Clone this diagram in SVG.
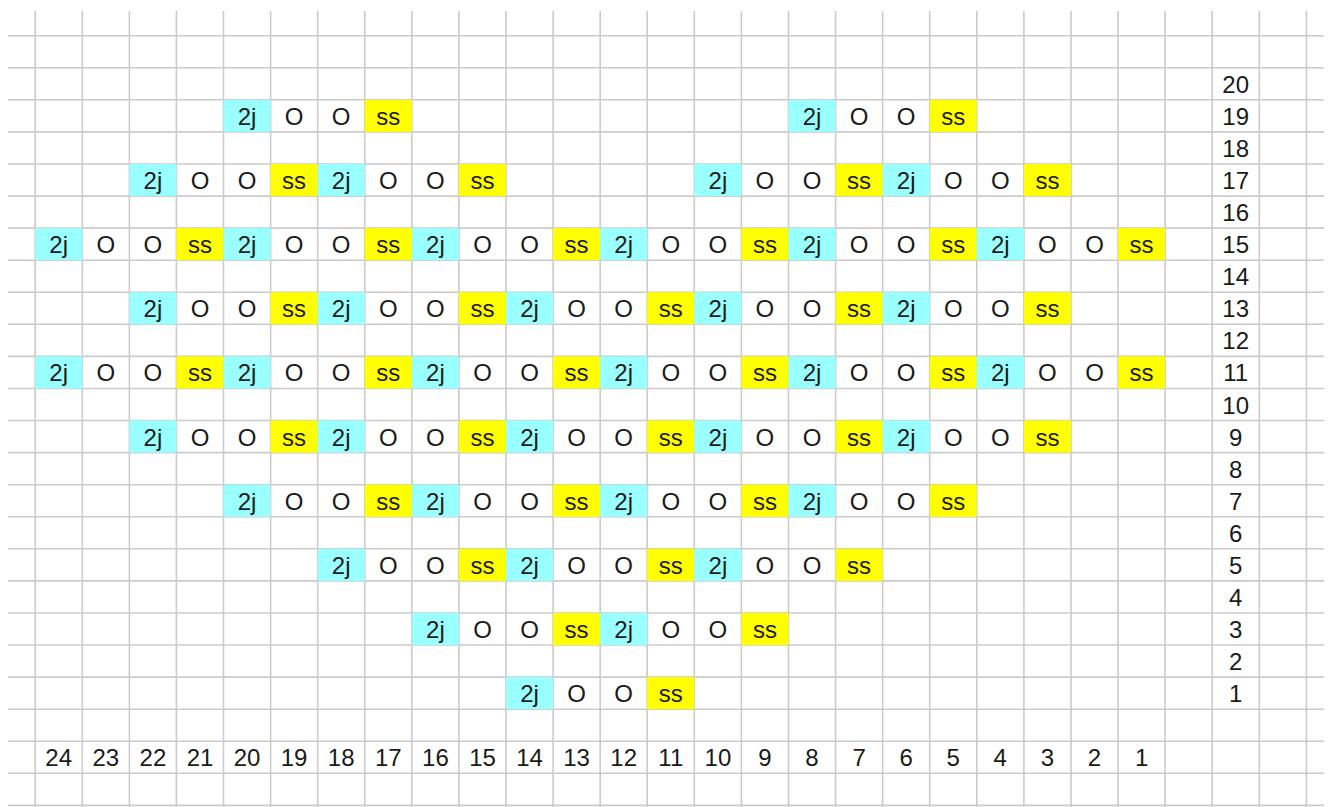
<svg xmlns="http://www.w3.org/2000/svg" width="1331" height="807" viewBox="0 0 1331 807">
<style>
.g{stroke:#cbcbcb;stroke-width:1.6;fill:none}
.c{fill:#99ffff}
.y{fill:#ffff00}
text{font-family:"Liberation Sans",Arial,sans-serif;font-size:24px;fill:#1a1a1a;text-anchor:middle}
</style>
<rect width="1331" height="807" fill="#ffffff"/>
<g id="grid">
<path class="g" d="M35.2 11V807M82.3 11V807M129.4 11V807M176.4 11V807M223.5 11V807M270.6 11V807M317.7 11V807M364.8 11V807M411.8 11V807M458.9 11V807M506 11V807M553.1 11V807M600.2 11V807M647.2 11V807M694.3 11V807M741.4 11V807M788.5 11V807M835.6 11V807M882.6 11V807M929.7 11V807M976.8 11V807M1023.9 11V807M1071 11V807M1118 11V807M1165.1 11V807M1212.2 11V807M1259.3 11V807M1306.4 11V807"/>
<path class="g" d="M8 35.7H1324M8 67.8H1324M8 99.8H1324M8 131.9H1324M8 164H1324M8 196.1H1324M8 228.1H1324M8 260.2H1324M8 292.3H1324M8 324.3H1324M8 356.4H1324M8 388.5H1324M8 420.5H1324M8 452.6H1324M8 484.7H1324M8 516.8H1324M8 548.8H1324M8 580.9H1324M8 613H1324M8 645H1324M8 677.1H1324M8 709.2H1324M8 741.2H1324M8 773.3H1324M8 805.4H1324"/>
</g>
<g id="row19">
<g id="r19-m20"><rect class="c" x="223.5" y="99.8" width="47.1" height="32.1"/><rect class="y" x="364.8" y="99.8" width="47.1" height="32.1"/><text x="247.1" y="124.8">2j</text><text x="294.1" y="124.8">O</text><text x="341.2" y="124.8">O</text><text x="388.3" y="124.8">ss</text></g>
<g id="r19-m8"><rect class="c" x="788.5" y="99.8" width="47.1" height="32.1"/><rect class="y" x="929.7" y="99.8" width="47.1" height="32.1"/><text x="812" y="124.8">2j</text><text x="859.1" y="124.8">O</text><text x="906.2" y="124.8">O</text><text x="953.3" y="124.8">ss</text></g>
</g>
<g id="row17">
<g id="r17-m22"><rect class="c" x="129.4" y="164" width="47.1" height="32.1"/><rect class="y" x="270.6" y="164" width="47.1" height="32.1"/><text x="152.9" y="189">2j</text><text x="200" y="189">O</text><text x="247.1" y="189">O</text><text x="294.1" y="189">ss</text></g>
<g id="r17-m18"><rect class="c" x="317.7" y="164" width="47.1" height="32.1"/><rect class="y" x="458.9" y="164" width="47.1" height="32.1"/><text x="341.2" y="189">2j</text><text x="388.3" y="189">O</text><text x="435.4" y="189">O</text><text x="482.5" y="189">ss</text></g>
<g id="r17-m10"><rect class="c" x="694.3" y="164" width="47.1" height="32.1"/><rect class="y" x="835.6" y="164" width="47.1" height="32.1"/><text x="717.9" y="189">2j</text><text x="764.9" y="189">O</text><text x="812" y="189">O</text><text x="859.1" y="189">ss</text></g>
<g id="r17-m6"><rect class="c" x="882.6" y="164" width="47.1" height="32.1"/><rect class="y" x="1023.9" y="164" width="47.1" height="32.1"/><text x="906.2" y="189">2j</text><text x="953.3" y="189">O</text><text x="1000.3" y="189">O</text><text x="1047.4" y="189">ss</text></g>
</g>
<g id="row15">
<g id="r15-m24"><rect class="c" x="35.2" y="228.1" width="47.1" height="32.1"/><rect class="y" x="176.4" y="228.1" width="47.1" height="32.1"/><text x="58.7" y="253.1">2j</text><text x="105.8" y="253.1">O</text><text x="152.9" y="253.1">O</text><text x="200" y="253.1">ss</text></g>
<g id="r15-m20"><rect class="c" x="223.5" y="228.1" width="47.1" height="32.1"/><rect class="y" x="364.8" y="228.1" width="47.1" height="32.1"/><text x="247.1" y="253.1">2j</text><text x="294.1" y="253.1">O</text><text x="341.2" y="253.1">O</text><text x="388.3" y="253.1">ss</text></g>
<g id="r15-m16"><rect class="c" x="411.8" y="228.1" width="47.1" height="32.1"/><rect class="y" x="553.1" y="228.1" width="47.1" height="32.1"/><text x="435.4" y="253.1">2j</text><text x="482.5" y="253.1">O</text><text x="529.5" y="253.1">O</text><text x="576.6" y="253.1">ss</text></g>
<g id="r15-m12"><rect class="c" x="600.2" y="228.1" width="47.1" height="32.1"/><rect class="y" x="741.4" y="228.1" width="47.1" height="32.1"/><text x="623.7" y="253.1">2j</text><text x="670.8" y="253.1">O</text><text x="717.9" y="253.1">O</text><text x="764.9" y="253.1">ss</text></g>
<g id="r15-m8"><rect class="c" x="788.5" y="228.1" width="47.1" height="32.1"/><rect class="y" x="929.7" y="228.1" width="47.1" height="32.1"/><text x="812" y="253.1">2j</text><text x="859.1" y="253.1">O</text><text x="906.2" y="253.1">O</text><text x="953.3" y="253.1">ss</text></g>
<g id="r15-m4"><rect class="c" x="976.8" y="228.1" width="47.1" height="32.1"/><rect class="y" x="1118" y="228.1" width="47.1" height="32.1"/><text x="1000.3" y="253.1">2j</text><text x="1047.4" y="253.1">O</text><text x="1094.5" y="253.1">O</text><text x="1141.6" y="253.1">ss</text></g>
</g>
<g id="row13">
<g id="r13-m22"><rect class="c" x="129.4" y="292.3" width="47.1" height="32.1"/><rect class="y" x="270.6" y="292.3" width="47.1" height="32.1"/><text x="152.9" y="317.3">2j</text><text x="200" y="317.3">O</text><text x="247.1" y="317.3">O</text><text x="294.1" y="317.3">ss</text></g>
<g id="r13-m18"><rect class="c" x="317.7" y="292.3" width="47.1" height="32.1"/><rect class="y" x="458.9" y="292.3" width="47.1" height="32.1"/><text x="341.2" y="317.3">2j</text><text x="388.3" y="317.3">O</text><text x="435.4" y="317.3">O</text><text x="482.5" y="317.3">ss</text></g>
<g id="r13-m14"><rect class="c" x="506" y="292.3" width="47.1" height="32.1"/><rect class="y" x="647.2" y="292.3" width="47.1" height="32.1"/><text x="529.5" y="317.3">2j</text><text x="576.6" y="317.3">O</text><text x="623.7" y="317.3">O</text><text x="670.8" y="317.3">ss</text></g>
<g id="r13-m10"><rect class="c" x="694.3" y="292.3" width="47.1" height="32.1"/><rect class="y" x="835.6" y="292.3" width="47.1" height="32.1"/><text x="717.9" y="317.3">2j</text><text x="764.9" y="317.3">O</text><text x="812" y="317.3">O</text><text x="859.1" y="317.3">ss</text></g>
<g id="r13-m6"><rect class="c" x="882.6" y="292.3" width="47.1" height="32.1"/><rect class="y" x="1023.9" y="292.3" width="47.1" height="32.1"/><text x="906.2" y="317.3">2j</text><text x="953.3" y="317.3">O</text><text x="1000.3" y="317.3">O</text><text x="1047.4" y="317.3">ss</text></g>
</g>
<g id="row11">
<g id="r11-m24"><rect class="c" x="35.2" y="356.4" width="47.1" height="32.1"/><rect class="y" x="176.4" y="356.4" width="47.1" height="32.1"/><text x="58.7" y="381.4">2j</text><text x="105.8" y="381.4">O</text><text x="152.9" y="381.4">O</text><text x="200" y="381.4">ss</text></g>
<g id="r11-m20"><rect class="c" x="223.5" y="356.4" width="47.1" height="32.1"/><rect class="y" x="364.8" y="356.4" width="47.1" height="32.1"/><text x="247.1" y="381.4">2j</text><text x="294.1" y="381.4">O</text><text x="341.2" y="381.4">O</text><text x="388.3" y="381.4">ss</text></g>
<g id="r11-m16"><rect class="c" x="411.8" y="356.4" width="47.1" height="32.1"/><rect class="y" x="553.1" y="356.4" width="47.1" height="32.1"/><text x="435.4" y="381.4">2j</text><text x="482.5" y="381.4">O</text><text x="529.5" y="381.4">O</text><text x="576.6" y="381.4">ss</text></g>
<g id="r11-m12"><rect class="c" x="600.2" y="356.4" width="47.1" height="32.1"/><rect class="y" x="741.4" y="356.4" width="47.1" height="32.1"/><text x="623.7" y="381.4">2j</text><text x="670.8" y="381.4">O</text><text x="717.9" y="381.4">O</text><text x="764.9" y="381.4">ss</text></g>
<g id="r11-m8"><rect class="c" x="788.5" y="356.4" width="47.1" height="32.1"/><rect class="y" x="929.7" y="356.4" width="47.1" height="32.1"/><text x="812" y="381.4">2j</text><text x="859.1" y="381.4">O</text><text x="906.2" y="381.4">O</text><text x="953.3" y="381.4">ss</text></g>
<g id="r11-m4"><rect class="c" x="976.8" y="356.4" width="47.1" height="32.1"/><rect class="y" x="1118" y="356.4" width="47.1" height="32.1"/><text x="1000.3" y="381.4">2j</text><text x="1047.4" y="381.4">O</text><text x="1094.5" y="381.4">O</text><text x="1141.6" y="381.4">ss</text></g>
</g>
<g id="row9">
<g id="r9-m22"><rect class="c" x="129.4" y="420.5" width="47.1" height="32.1"/><rect class="y" x="270.6" y="420.5" width="47.1" height="32.1"/><text x="152.9" y="445.5">2j</text><text x="200" y="445.5">O</text><text x="247.1" y="445.5">O</text><text x="294.1" y="445.5">ss</text></g>
<g id="r9-m18"><rect class="c" x="317.7" y="420.5" width="47.1" height="32.1"/><rect class="y" x="458.9" y="420.5" width="47.1" height="32.1"/><text x="341.2" y="445.5">2j</text><text x="388.3" y="445.5">O</text><text x="435.4" y="445.5">O</text><text x="482.5" y="445.5">ss</text></g>
<g id="r9-m14"><rect class="c" x="506" y="420.5" width="47.1" height="32.1"/><rect class="y" x="647.2" y="420.5" width="47.1" height="32.1"/><text x="529.5" y="445.5">2j</text><text x="576.6" y="445.5">O</text><text x="623.7" y="445.5">O</text><text x="670.8" y="445.5">ss</text></g>
<g id="r9-m10"><rect class="c" x="694.3" y="420.5" width="47.1" height="32.1"/><rect class="y" x="835.6" y="420.5" width="47.1" height="32.1"/><text x="717.9" y="445.5">2j</text><text x="764.9" y="445.5">O</text><text x="812" y="445.5">O</text><text x="859.1" y="445.5">ss</text></g>
<g id="r9-m6"><rect class="c" x="882.6" y="420.5" width="47.1" height="32.1"/><rect class="y" x="1023.9" y="420.5" width="47.1" height="32.1"/><text x="906.2" y="445.5">2j</text><text x="953.3" y="445.5">O</text><text x="1000.3" y="445.5">O</text><text x="1047.4" y="445.5">ss</text></g>
</g>
<g id="row7">
<g id="r7-m20"><rect class="c" x="223.5" y="484.7" width="47.1" height="32.1"/><rect class="y" x="364.8" y="484.7" width="47.1" height="32.1"/><text x="247.1" y="509.7">2j</text><text x="294.1" y="509.7">O</text><text x="341.2" y="509.7">O</text><text x="388.3" y="509.7">ss</text></g>
<g id="r7-m16"><rect class="c" x="411.8" y="484.7" width="47.1" height="32.1"/><rect class="y" x="553.1" y="484.7" width="47.1" height="32.1"/><text x="435.4" y="509.7">2j</text><text x="482.5" y="509.7">O</text><text x="529.5" y="509.7">O</text><text x="576.6" y="509.7">ss</text></g>
<g id="r7-m12"><rect class="c" x="600.2" y="484.7" width="47.1" height="32.1"/><rect class="y" x="741.4" y="484.7" width="47.1" height="32.1"/><text x="623.7" y="509.7">2j</text><text x="670.8" y="509.7">O</text><text x="717.9" y="509.7">O</text><text x="764.9" y="509.7">ss</text></g>
<g id="r7-m8"><rect class="c" x="788.5" y="484.7" width="47.1" height="32.1"/><rect class="y" x="929.7" y="484.7" width="47.1" height="32.1"/><text x="812" y="509.7">2j</text><text x="859.1" y="509.7">O</text><text x="906.2" y="509.7">O</text><text x="953.3" y="509.7">ss</text></g>
</g>
<g id="row5">
<g id="r5-m18"><rect class="c" x="317.7" y="548.8" width="47.1" height="32.1"/><rect class="y" x="458.9" y="548.8" width="47.1" height="32.1"/><text x="341.2" y="573.8">2j</text><text x="388.3" y="573.8">O</text><text x="435.4" y="573.8">O</text><text x="482.5" y="573.8">ss</text></g>
<g id="r5-m14"><rect class="c" x="506" y="548.8" width="47.1" height="32.1"/><rect class="y" x="647.2" y="548.8" width="47.1" height="32.1"/><text x="529.5" y="573.8">2j</text><text x="576.6" y="573.8">O</text><text x="623.7" y="573.8">O</text><text x="670.8" y="573.8">ss</text></g>
<g id="r5-m10"><rect class="c" x="694.3" y="548.8" width="47.1" height="32.1"/><rect class="y" x="835.6" y="548.8" width="47.1" height="32.1"/><text x="717.9" y="573.8">2j</text><text x="764.9" y="573.8">O</text><text x="812" y="573.8">O</text><text x="859.1" y="573.8">ss</text></g>
</g>
<g id="row3">
<g id="r3-m16"><rect class="c" x="411.8" y="613" width="47.1" height="32.1"/><rect class="y" x="553.1" y="613" width="47.1" height="32.1"/><text x="435.4" y="638">2j</text><text x="482.5" y="638">O</text><text x="529.5" y="638">O</text><text x="576.6" y="638">ss</text></g>
<g id="r3-m12"><rect class="c" x="600.2" y="613" width="47.1" height="32.1"/><rect class="y" x="741.4" y="613" width="47.1" height="32.1"/><text x="623.7" y="638">2j</text><text x="670.8" y="638">O</text><text x="717.9" y="638">O</text><text x="764.9" y="638">ss</text></g>
</g>
<g id="row1">
<g id="r1-m14"><rect class="c" x="506" y="677.1" width="47.1" height="32.1"/><rect class="y" x="647.2" y="677.1" width="47.1" height="32.1"/><text x="529.5" y="702.1">2j</text><text x="576.6" y="702.1">O</text><text x="623.7" y="702.1">O</text><text x="670.8" y="702.1">ss</text></g>
</g>
<g id="row-labels">
<text x="1235.7" y="92.8">20</text><text x="1235.7" y="124.8">19</text><text x="1235.7" y="156.9">18</text><text x="1235.7" y="189">17</text><text x="1235.7" y="221.1">16</text><text x="1235.7" y="253.1">15</text><text x="1235.7" y="285.2">14</text><text x="1235.7" y="317.3">13</text><text x="1235.7" y="349.3">12</text><text x="1235.7" y="381.4">11</text><text x="1235.7" y="413.5">10</text><text x="1235.7" y="445.5">9</text><text x="1235.7" y="477.6">8</text><text x="1235.7" y="509.7">7</text><text x="1235.7" y="541.8">6</text><text x="1235.7" y="573.8">5</text><text x="1235.7" y="605.9">4</text><text x="1235.7" y="638">3</text><text x="1235.7" y="670">2</text><text x="1235.7" y="702.1">1</text>
</g>
<g id="column-labels">
<text x="58.7" y="766.2">24</text><text x="105.8" y="766.2">23</text><text x="152.9" y="766.2">22</text><text x="200" y="766.2">21</text><text x="247.1" y="766.2">20</text><text x="294.1" y="766.2">19</text><text x="341.2" y="766.2">18</text><text x="388.3" y="766.2">17</text><text x="435.4" y="766.2">16</text><text x="482.5" y="766.2">15</text><text x="529.5" y="766.2">14</text><text x="576.6" y="766.2">13</text><text x="623.7" y="766.2">12</text><text x="670.8" y="766.2">11</text><text x="717.9" y="766.2">10</text><text x="764.9" y="766.2">9</text><text x="812" y="766.2">8</text><text x="859.1" y="766.2">7</text><text x="906.2" y="766.2">6</text><text x="953.3" y="766.2">5</text><text x="1000.3" y="766.2">4</text><text x="1047.4" y="766.2">3</text><text x="1094.5" y="766.2">2</text><text x="1141.6" y="766.2">1</text>
</g>
</svg>
